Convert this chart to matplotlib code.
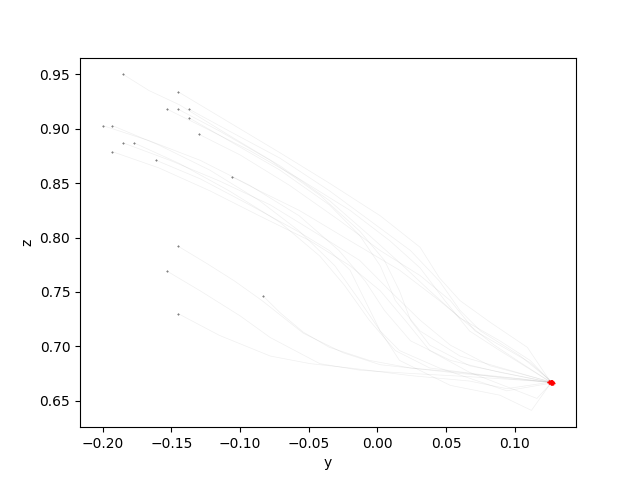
import matplotlib
matplotlib.use("Agg")
import matplotlib.pyplot as plt

# Trajectories: y values and z values
traj_y = [
    [-0.145, -0.108, -0.071, -0.035, 0.002, 0.031, 0.045, 0.060, 0.082, 0.109, 0.126],
    [-0.185, -0.166, -0.144, -0.108, -0.071, -0.035, -0.006, 0.016, 0.038, 0.060, 0.089, 0.111, 0.127],
    [-0.153, -0.129, -0.093, -0.057, -0.020, 0.009, 0.031, 0.049, 0.067, 0.089, 0.126],
    [-0.145, -0.115, -0.078, -0.042, -0.013, 0.005, 0.016, 0.024, 0.038, 0.067, 0.125],
    [-0.137, -0.108, -0.071, -0.035, -0.006, 0.024, 0.045, 0.060, 0.075, 0.104, 0.127],
    [-0.137, -0.108, -0.071, -0.035, -0.013, 0.002, 0.013, 0.031, 0.060, 0.096, 0.126],
    [-0.130, -0.100, -0.064, -0.028, 0.002, 0.031, 0.053, 0.071, 0.089, 0.111, 0.128],
    [-0.106, -0.086, -0.057, -0.020, 0.016, 0.045, 0.067, 0.085, 0.104, 0.126],
    [-0.200, -0.166, -0.129, -0.093, -0.057, -0.028, -0.009, 0.005, 0.024, 0.053, 0.089, 0.125],
    [-0.193, -0.159, -0.122, -0.086, -0.057, -0.031, -0.013, 0.002, 0.016, 0.045, 0.094, 0.126],
    [-0.185, -0.151, -0.115, -0.078, -0.042, -0.013, 0.009, 0.031, 0.053, 0.082, 0.127],
    [-0.177, -0.144, -0.108, -0.071, -0.042, -0.024, -0.006, 0.013, 0.038, 0.075, 0.126],
    [-0.193, -0.159, -0.122, -0.086, -0.049, -0.020, 0.002, 0.020, 0.038, 0.067, 0.116, 0.127],
    [-0.161, -0.129, -0.093, -0.057, -0.035, -0.020, -0.009, 0.002, 0.016, 0.053, 0.089, 0.112, 0.126],
    [-0.145, -0.124, -0.104, -0.084, -0.054, -0.025, 0.002, 0.024, 0.060, 0.096, 0.126],
    [-0.153, -0.129, -0.100, -0.078, -0.042, -0.013, 0.024, 0.067, 0.126],
    [-0.083, -0.071, -0.054, -0.035, -0.006, 0.024, 0.060, 0.104, 0.127],
    [-0.145, -0.115, -0.078, -0.049, -0.020, 0.024, 0.067, 0.094, 0.126],
]
traj_z = [
    [0.934, 0.906, 0.878, 0.850, 0.820, 0.791, 0.763, 0.742, 0.722, 0.699, 0.667],
    [0.950, 0.935, 0.922, 0.894, 0.866, 0.834, 0.802, 0.777, 0.751, 0.726, 0.705, 0.687, 0.666],
    [0.918, 0.903, 0.880, 0.854, 0.825, 0.797, 0.772, 0.742, 0.714, 0.696, 0.667],
    [0.918, 0.898, 0.871, 0.839, 0.806, 0.779, 0.751, 0.724, 0.701, 0.682, 0.667],
    [0.918, 0.898, 0.873, 0.843, 0.816, 0.788, 0.760, 0.733, 0.714, 0.691, 0.667],
    [0.910, 0.889, 0.862, 0.830, 0.802, 0.774, 0.742, 0.714, 0.691, 0.678, 0.667],
    [0.895, 0.876, 0.848, 0.816, 0.788, 0.765, 0.742, 0.714, 0.701, 0.685, 0.666],
    [0.856, 0.843, 0.825, 0.797, 0.770, 0.742, 0.719, 0.701, 0.685, 0.667],
    [0.903, 0.889, 0.871, 0.848, 0.820, 0.788, 0.760, 0.733, 0.705, 0.687, 0.676, 0.667],
    [0.903, 0.885, 0.862, 0.834, 0.806, 0.774, 0.742, 0.714, 0.696, 0.680, 0.659, 0.666],
    [0.887, 0.871, 0.852, 0.830, 0.802, 0.779, 0.751, 0.724, 0.701, 0.682, 0.667],
    [0.887, 0.868, 0.843, 0.814, 0.783, 0.756, 0.724, 0.696, 0.680, 0.674, 0.667],
    [0.879, 0.864, 0.843, 0.820, 0.797, 0.774, 0.751, 0.724, 0.696, 0.676, 0.652, 0.667],
    [0.871, 0.854, 0.830, 0.805, 0.788, 0.770, 0.742, 0.714, 0.687, 0.664, 0.655, 0.641, 0.666],
    [0.792, 0.776, 0.760, 0.742, 0.712, 0.694, 0.683, 0.680, 0.676, 0.670, 0.667],
    [0.769, 0.751, 0.728, 0.708, 0.684, 0.678, 0.675, 0.672, 0.667],
    [0.746, 0.731, 0.713, 0.699, 0.687, 0.680, 0.675, 0.670, 0.666],
    [0.730, 0.710, 0.691, 0.684, 0.680, 0.673, 0.668, 0.661, 0.667],
]

fig, ax = plt.subplots(figsize=(6.4, 4.8), dpi=100)
for ys, zs in zip(traj_y, traj_z):
    ax.plot(ys, zs, color="grey", alpha=0.12, linewidth=0.5)
for ys, zs in zip(traj_y, traj_z):
    ax.plot(ys[0], zs[0], "+", color="grey", markersize=2, markeredgewidth=0.8)
    ax.plot(ys[-1], zs[-1], "+", color="red", markersize=2.5, markeredgewidth=1.0)

ax.set_xlabel("y")
ax.set_ylabel("z")
fig.savefig("out.png", dpi=100)
